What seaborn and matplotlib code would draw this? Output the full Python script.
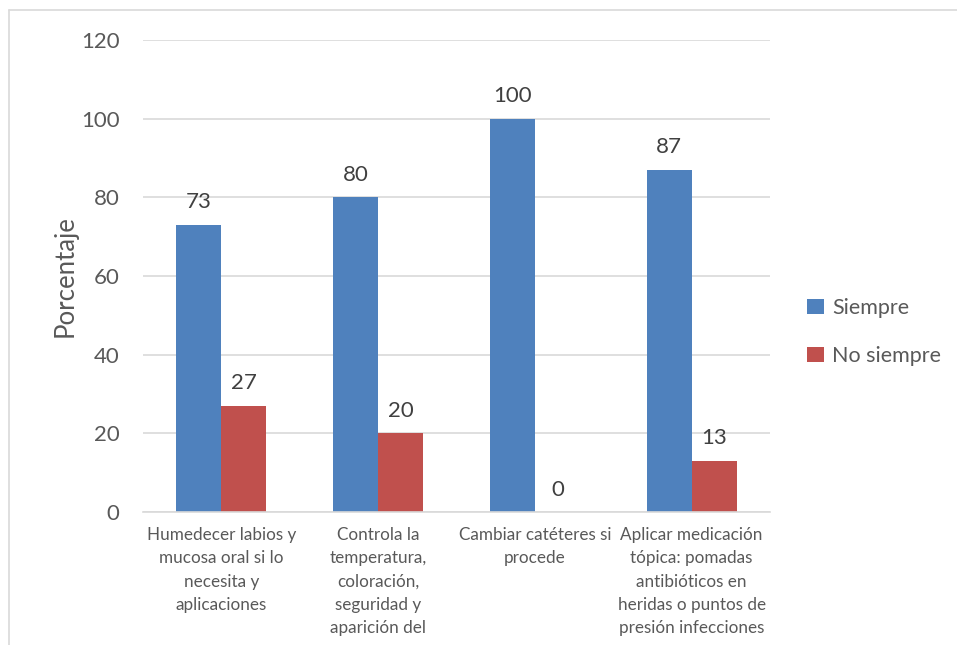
import pandas as pd
import seaborn as sns
from matplotlib import pyplot as plt
from matplotlib.lines import Line2D
from matplotlib.patches import Patch

categories = [
    "Humedecer labios y\nmucosa oral si lo\nnecesita y\naplicaciones",
    "Controla la\ntemperatura,\ncoloración,\nseguridad y\naparición del",
    "Cambiar catéteres si\nprocede",
    "Aplicar medicación\ntópica: pomadas\nantibióticos en\nheridas o puntos de\npresión infecciones",
]
siempre = [73, 80, 100, 87]
no_siempre = [27, 20, 0, 13]
series_names = ["Siempre", "No siempre"]
yticks = [0, 20, 40, 60, 80, 100, 120]

COLORS = {"Siempre": "#4F81BD", "No siempre": "#C0504D"}
TEXT = "#595959"


def main():
    records = []
    for cat, s, n in zip(categories, siempre, no_siempre):
        records.append({"Categoria": cat, "Serie": "Siempre", "Valor": s})
        records.append({"Categoria": cat, "Serie": "No siempre", "Valor": n})
    df = pd.DataFrame(records)

    sns.set_style("white")
    plt.rcParams["font.family"] = ["Lato", "DejaVu Sans"]

    fig = plt.figure(figsize=(9.57, 6.45), dpi=100)
    ax = fig.add_axes([143 / 957, 1 - 512 / 645, (770 - 143) / 957, (512 - 40) / 645])

    sns.barplot(
        data=df,
        x="Categoria",
        y="Valor",
        hue="Serie",
        hue_order=series_names,
        order=categories,
        palette=COLORS,
        width=0.574,
        gap=0,
        saturation=1,
        linewidth=0,
        edgecolor="none",
        legend=False,
        ax=ax,
    )

    for container in ax.containers:
        ax.bar_label(container, fmt="%g", padding=9, fontsize=16, color="#404040")

    ax.set_ylim(0, 120)
    ax.set_xlim(-0.5, len(categories) - 0.5)
    ax.set_yticks(yticks)
    ax.yaxis.grid(True, color="#D9D9D9", linewidth=1.2)
    ax.set_axisbelow(True)
    for side in ["top", "right", "left"]:
        ax.spines[side].set_visible(False)
    ax.spines["bottom"].set_color("#D9D9D9")
    ax.spines["bottom"].set_linewidth(1.2)
    ax.tick_params(axis="y", length=0, pad=17, labelsize=16, labelcolor=TEXT)
    ax.tick_params(axis="x", length=0, pad=11, labelsize=12.3, labelcolor=TEXT)
    for lbl in ax.get_xticklabels():
        lbl.set_linespacing(1.55)
        lbl.set_verticalalignment("top")
    ax.set_xlabel("")
    ax.set_ylabel("Porcentaje", fontsize=18.5, color=TEXT, labelpad=2)

    handles = [Patch(facecolor=COLORS[n], edgecolor="none") for n in series_names]
    fig.legend(
        handles,
        series_names,
        loc="center left",
        bbox_to_anchor=(788 / 957, 1 - 332 / 645),
        frameon=False,
        fontsize=15.5,
        labelcolor=TEXT,
        handlelength=0.75,
        handleheight=0.75,
        handletextpad=0.4,
        labelspacing=1.3,
    )

    # outer chart frame (left and top edges visible)
    fig.add_artist(Line2D([9 / 957, 9 / 957], [0, 1 - 10 / 645], transform=fig.transFigure,
                          color="#D9D9D9", linewidth=1.2))
    fig.add_artist(Line2D([9 / 957, 1], [1 - 10 / 645, 1 - 10 / 645], transform=fig.transFigure,
                          color="#D9D9D9", linewidth=1.2))

    fig.savefig("out.png", dpi=100, facecolor="white")


if __name__ == "__main__":
    main()
